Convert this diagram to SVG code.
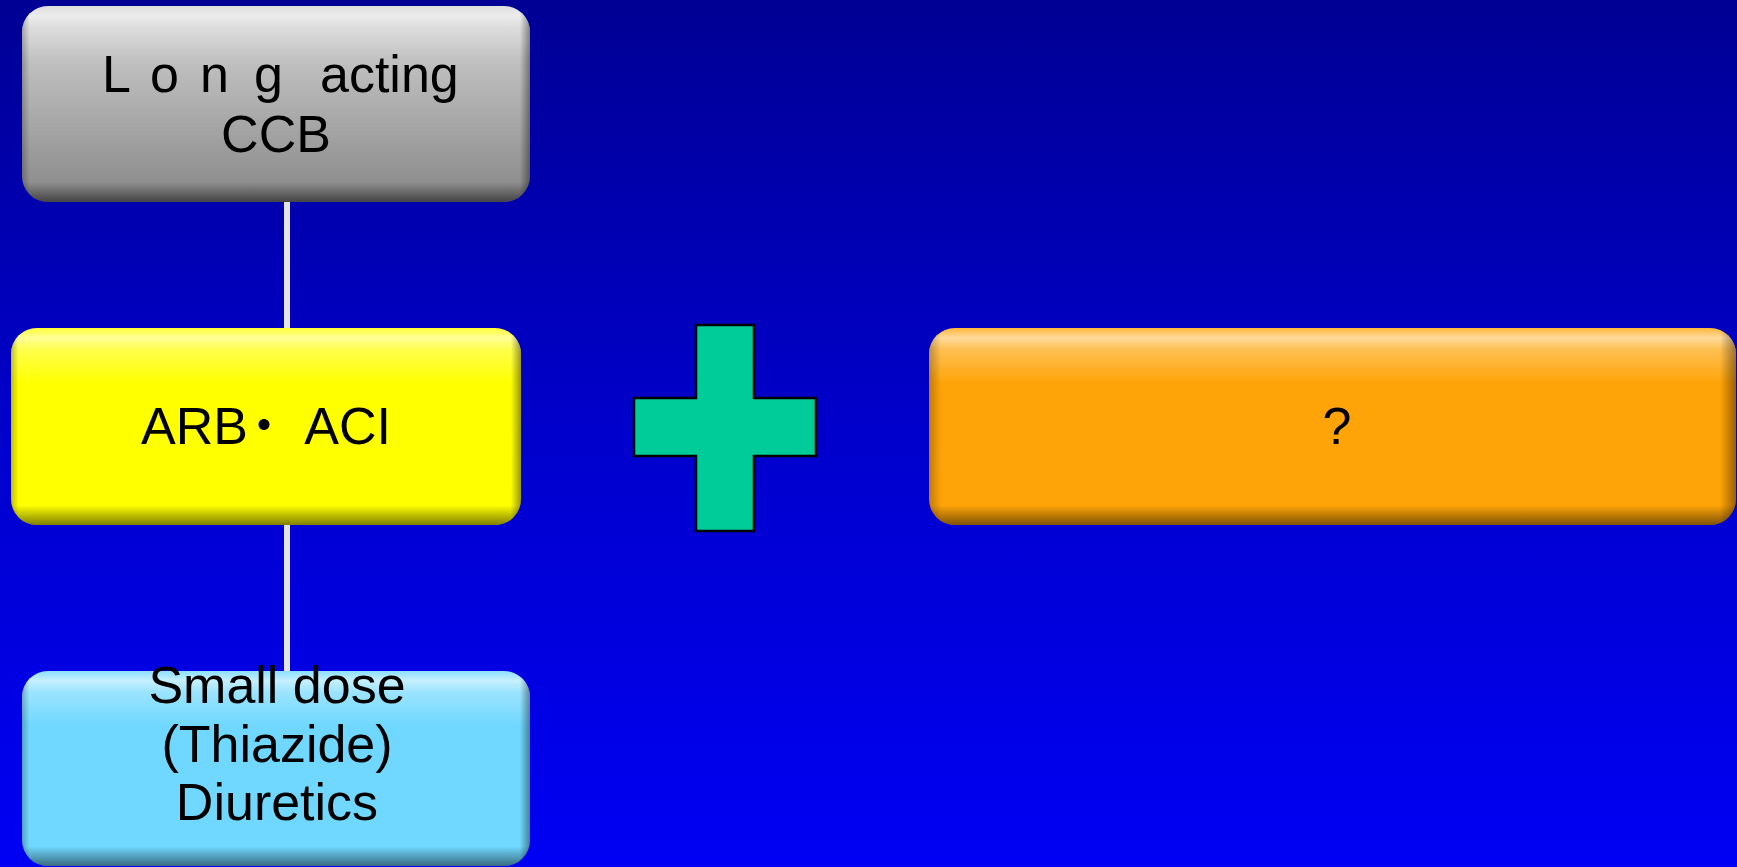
<svg xmlns="http://www.w3.org/2000/svg" width="1737" height="867" viewBox="0 0 1737 867">
<style>
.lbl{font-family:"Liberation Sans","Noto Sans CJK JP",Arial,sans-serif;font-size:52px;fill:#000;text-anchor:middle}
.lbls{font-family:"Liberation Sans","Noto Sans CJK JP",Arial,sans-serif;font-size:52px;fill:#000}
.conn{stroke:#e4e4e4;stroke-width:6;fill:none}
.shade{fill:url(#vshade)}
.hshade{fill:url(#hshade)}
</style>
<defs>
<linearGradient id="bg" x1="0" y1="0" x2="0" y2="1">
<stop offset="0" stop-color="#000094"/>
<stop offset="0.5" stop-color="#0000CC"/>
<stop offset="1" stop-color="#0000F4"/>
</linearGradient>
<linearGradient id="gray" x1="0" y1="0" x2="0" y2="1">
<stop offset="0" stop-color="#d6d6d6"/>
<stop offset="1" stop-color="#878787"/>
</linearGradient>
<linearGradient id="vshade" x1="0" y1="0" x2="0" y2="1">
<stop offset="0" stop-color="#ffffff" stop-opacity="0.2"/>
<stop offset="0.05" stop-color="#ffffff" stop-opacity="0.6"/>
<stop offset="0.11" stop-color="#ffffff" stop-opacity="0.3"/>
<stop offset="0.28" stop-color="#ffffff" stop-opacity="0"/>
<stop offset="0.9" stop-color="#000000" stop-opacity="0"/>
<stop offset="0.96" stop-color="#000000" stop-opacity="0.3"/>
<stop offset="1" stop-color="#000000" stop-opacity="0.5"/>
</linearGradient>
<linearGradient id="hshade" x1="0" y1="0" x2="1" y2="0">
<stop offset="0" stop-color="#000000" stop-opacity="0.25"/>
<stop offset="0.015" stop-color="#000000" stop-opacity="0"/>
<stop offset="0.98" stop-color="#000000" stop-opacity="0"/>
<stop offset="1" stop-color="#000000" stop-opacity="0.4"/>
</linearGradient>
</defs>
<rect x="0" y="0" width="1737" height="867" fill="url(#bg)"/>
<g id="connectors">
<line class="conn" x1="287" y1="200" x2="287" y2="673"/>
</g>
<g id="node-ccb">
<rect x="22" y="6" width="508" height="196" rx="26" fill="url(#gray)"/>
<rect x="22" y="6" width="508" height="196" rx="26" class="shade"/>
<rect x="22" y="6" width="508" height="196" rx="26" class="hshade"/>
<text class="lbls" y="92"><tspan x="102">L</tspan><tspan x="150">o</tspan><tspan x="200">n</tspan><tspan x="254">g</tspan><tspan x="320">acting</tspan></text>
<text class="lbl" x="276" y="152">CCB</text>
</g>
<g id="node-arb">
<rect x="11" y="328" width="510" height="197" rx="26" fill="#ffff00"/>
<rect x="11" y="328" width="510" height="197" rx="26" class="shade"/>
<rect x="11" y="328" width="510" height="197" rx="26" class="hshade"/>
<text class="lbls" x="141" y="444">ARB<tspan dx="-10">・ ACI</tspan></text>
</g>
<g id="node-diuretics">
<rect x="22" y="671" width="508" height="195" rx="26" fill="#70d8ff"/>
<rect x="22" y="671" width="508" height="195" rx="26" class="shade"/>
<rect x="22" y="671" width="508" height="195" rx="26" class="hshade"/>
<text class="lbl" x="277" y="703">Small dose</text>
<text class="lbl" x="277" y="762">(Thiazide)</text>
<text class="lbl" x="277" y="820">Diuretics</text>
</g>
<g id="node-plus">
<polygon points="696,325 754,325 754,398 816,398 816,456 754,456 754,531 696,531 696,456 634,456 634,398 696,398" fill="#00CC99" stroke="#000" stroke-width="2.5"/>
</g>
<g id="node-unknown">
<rect x="929" y="328" width="807" height="197" rx="26" fill="#ffa408"/>
<rect x="929" y="328" width="807" height="197" rx="26" class="shade"/>
<rect x="929" y="328" width="807" height="197" rx="26" class="hshade"/>
<text class="lbl" x="1337" y="444">?</text>
</g>
</svg>
